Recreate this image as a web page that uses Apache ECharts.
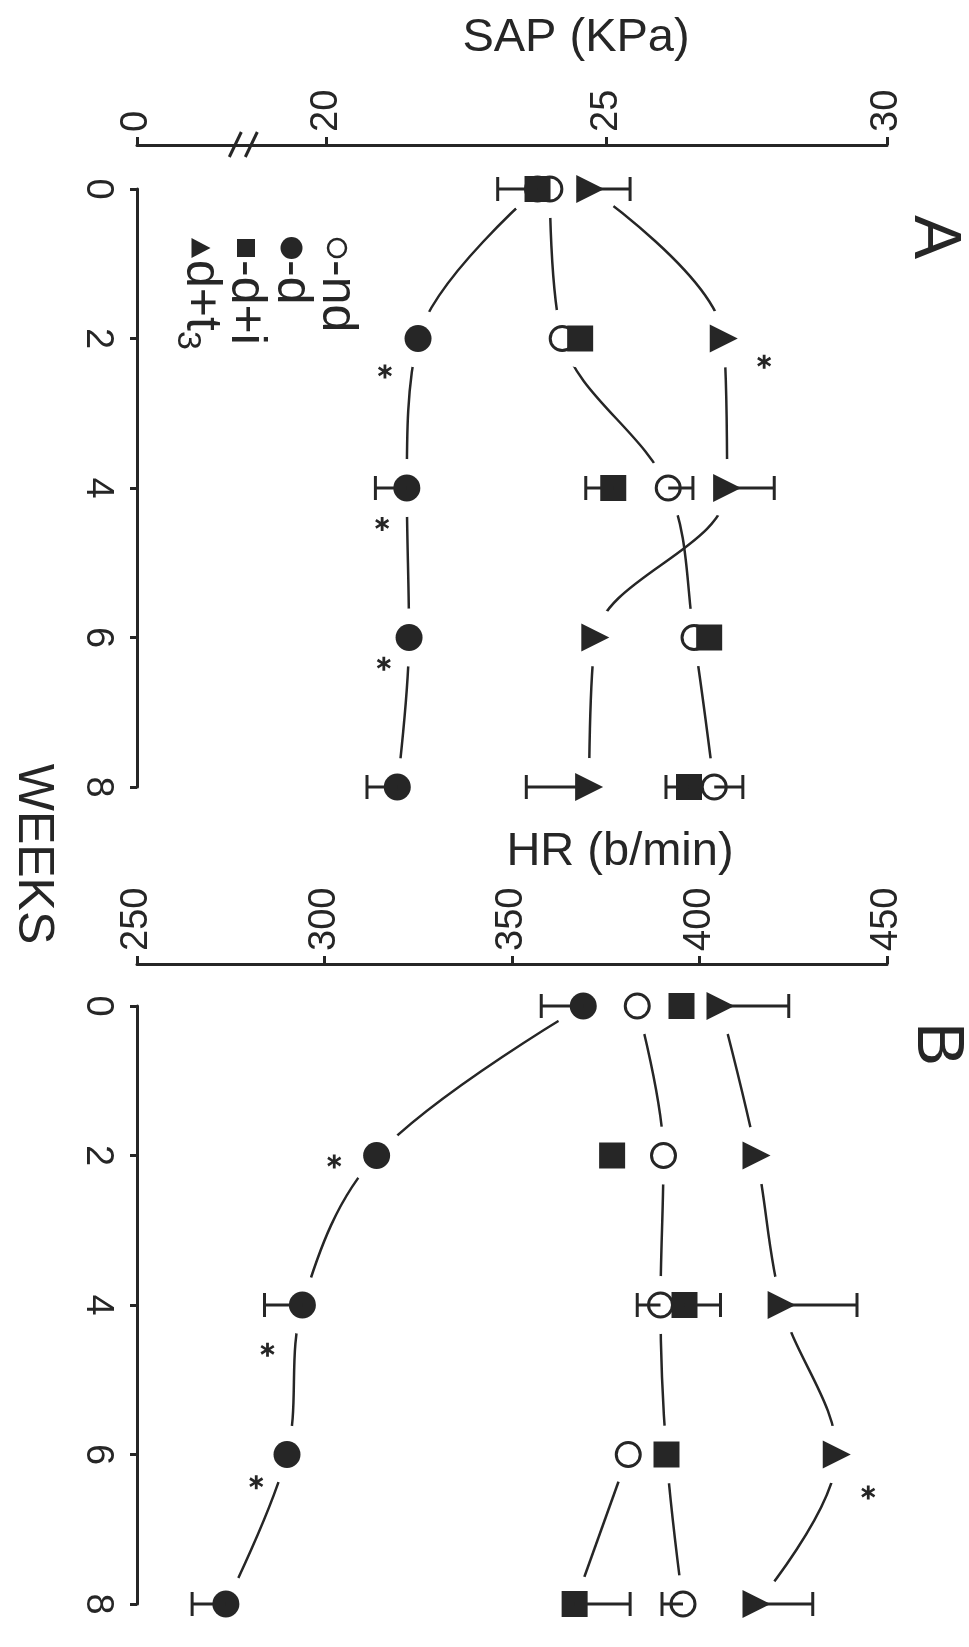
<!DOCTYPE html>
<html>
<head>
<meta charset="utf-8">
<script src="https://cdn.jsdelivr.net/npm/echarts@6/dist/echarts.min.js"></script>
<style>
  html, body { margin: 0; padding: 0; background: #fff; }
  #main { width: 969px; height: 1647px; }
</style>
</head>
<body>
<div id="main"></div>
<script>
// weeks of treatment (vertical axis in both panels)
const weeks = [0, 2, 4, 6, 8];
const weekTicks = [0, 2, 4, 6, 8];

// panel A: SAP (KPa), one value per week
const sapND  = [23.99, 24.21, 26.10, 26.56, 26.92];
const sapD   = [23.77, 21.64, 21.44, 21.48, 21.27];
const sapDI  = [23.77, 24.53, 25.12, 26.83, 26.47];
const sapDT3 = [24.71, 27.09, 27.15, 24.80, 24.69];
// one-sided SEM bars (sign = side drawn), 0 = none
const sapErrND  = [0, 0, 0.44, 0, 0.51];
const sapErrD   = [0, 0, -0.56, 0, -0.54];
const sapErrDI  = [-0.71, 0, -0.49, 0, -0.41];
const sapErrDT3 = [0.71, 0, 0.84, 0, -1.12];
// significance marks [week, SAP]
const sapStars = [[2.44, 21.05], [4.48, 21.0], [6.35, 21.03], [8.39, 20.96], [2.31, 27.81]];
// axis is broken: its left end stands for 0
const sapTicks = [0, 20, 25, 30];
const sapBrokenStart = 16.63;

// panel B: HR (b/min)
const hrND  = [383.4, 390.4, 389.6, 381.0, 395.6];
const hrD   = [369.0, 313.9, 294.1, 290.0, 273.7];
const hrDI  = [395.2, 376.7, 396.0, 391.2, 366.7];
const hrDT3 = [405.6, 415.2, 421.9, 436.6, 415.2];
const hrErrND  = [0, 0, -6.2, 0, -5.6];
const hrErrD   = [-11.2, 0, -10.1, 0, -9.0];
const hrErrDI  = [0, 0, 9.6, 0, 14.8];
const hrErrDT3 = [18.2, 0, 20.1, 0, 15.0];
const hrStars = [[2.08, 302.6], [4.6, 284.8], [6.37, 281.8], [8.41, 265.0], [6.51, 445.0]];
const hrTicks = [250, 300, 350, 400, 450];

const ink = '#262626';
const font = 'Liberation Sans';

const chart = echarts.init(document.getElementById('main'));

function pts(vals) {
  return weeks.map((w, i) => [vals[i] == null ? '-' : vals[i], w]);
}

function lineSeries(idx, vals) {
  return {
    type: 'line', xAxisIndex: idx, yAxisIndex: idx, z: 1,
    data: pts(vals), smooth: 0.35, showSymbol: false, connectNulls: false,
    lineStyle: { color: ink, width: 2.5 }, silent: true
  };
}

// white disc behind each mark, so curves stop short of it
function haloSeries(idx, vals) {
  return {
    type: 'scatter', xAxisIndex: idx, yAxisIndex: idx, z: 2,
    data: pts(vals), symbolSize: 58, itemStyle: { color: '#fff', opacity: 1 }, silent: true
  };
}

function markSeries(idx, vals, kind) {
  const s = {
    type: 'scatter', xAxisIndex: idx, yAxisIndex: idx, z: 3,
    data: pts(vals), symbolSize: 27, itemStyle: { color: ink, opacity: 1 }, silent: true
  };
  if (kind === 'open') {
    s.symbol = 'circle';
    s.symbolSize = 24;
    s.itemStyle = { color: '#fff', borderColor: ink, borderWidth: 3, opacity: 1 };
  } else if (kind === 'square') {
    s.symbol = 'rect';
    s.symbolSize = 26;
  } else if (kind === 'tri') {
    s.symbol = 'triangle';
    s.symbolRotate = -90;
    s.symbolSize = 28;
  } else {
    s.symbol = 'circle';
  }
  return s;
}

function errSeries(idx, vals, errs) {
  const data = [];
  weeks.forEach((w, i) => { if (errs[i]) data.push([w, vals[i], vals[i] + errs[i]]); });
  return {
    type: 'custom', xAxisIndex: idx, yAxisIndex: idx, z: 4, silent: true,
    encode: { x: [1, 2], y: 0 },
    renderItem: function (params, api) {
      const a = api.coord([api.value(1), api.value(0)]);
      const b = api.coord([api.value(2), api.value(0)]);
      return {
        type: 'group', children: [
          { type: 'line', shape: { x1: a[0], y1: a[1], x2: b[0], y2: b[1] }, style: { stroke: ink, lineWidth: 3 } },
          { type: 'line', shape: { x1: b[0], y1: b[1] - 12, x2: b[0], y2: b[1] + 12 }, style: { stroke: ink, lineWidth: 3 } }
        ]
      };
    },
    data: data
  };
}

const starPath = 'path://M4,0L6,0L6,3.5L9,1.5L10,3.2L7,5L10,6.8L9,8.5L6,6.5L6,10L4,10L4,6.5L1,8.5L0,6.8L3,5L0,3.2L1,1.5L4,3.5Z';

function starSeries(idx, stars) {
  return {
    type: 'scatter', xAxisIndex: idx, yAxisIndex: idx, z: 4, silent: true,
    data: stars.map(s => [s[1], s[0]]), symbol: starPath, symbolSize: 14,
    itemStyle: { color: ink, opacity: 1 }
  };
}

// curves: each list of values is one drawn curve
function panelSeries(idx, curves, nd, d, di, dt3, errs, stars) {
  const list = curves.map(c => lineSeries(idx, c));
  [nd, d, di, dt3].forEach(v => list.push(haloSeries(idx, v)));
  list.push(markSeries(idx, d, 'filled'), markSeries(idx, nd, 'open'),
    markSeries(idx, di, 'square'), markSeries(idx, dt3, 'tri'));
  [nd, d, di, dt3].forEach((v, k) => list.push(errSeries(idx, v, errs[k])));
  list.push(starSeries(idx, stars));
  return list;
}

// in panel B the o/■ pair is joined by one curve that splits after week 6
const hrPairUpper = weeks.map((w, i) => (i === 3 ? hrDI[i] : hrND[i]));
const hrPairLower = weeks.map((w, i) => (i === 3 ? hrND[i] : i === 4 ? hrDI[i] : null));

const axisText = { color: ink, fontFamily: font };

function valueAxis(idx, min, max, ticks, labelOf, offset) {
  return {
    type: 'value', gridIndex: idx, position: 'top', offset: offset,
    min: min, max: max, splitLine: { show: false },
    axisLine: { show: true, onZero: false, lineStyle: { color: ink, width: 3 } },
    axisTick: { show: true, customValues: ticks, length: 8, lineStyle: { color: ink, width: 3 } },
    axisLabel: Object.assign({ customValues: ticks, rotate: -90, fontSize: 38, margin: 13, formatter: labelOf }, axisText)
  };
}

function weekAxis(idx) {
  return {
    type: 'value', gridIndex: idx, position: 'left', inverse: true, min: 0, max: 8,
    splitLine: { show: false },
    axisLine: { show: true, onZero: false, lineStyle: { color: ink, width: 3 } },
    axisTick: { show: true, customValues: weekTicks, length: 7, lineStyle: { color: ink, width: 3 } },
    axisLabel: Object.assign({ customValues: weekTicks, rotate: -90, fontSize: 38, margin: 21 }, axisText)
  };
}

const sapAxisY = 145, hrAxisY = 964;
const gridA = { left: 137, top: 189, width: 750, height: 598 };
const gridB = { left: 137, top: 1006, width: 750, height: 598 };

chart.setOption({
  animation: false,
  backgroundColor: '#fff',
  grid: [gridA, gridB],
  xAxis: [
    valueAxis(0, sapBrokenStart, 30, sapTicks.map(t => t === 0 ? sapBrokenStart : t),
      v => (v < 17 ? '0' : String(Math.round(v))), gridA.top - sapAxisY),
    valueAxis(1, 250, 450, hrTicks, v => String(v), gridB.top - hrAxisY)
  ],
  yAxis: [weekAxis(0), weekAxis(1)],
  series: [].concat(
    panelSeries(0, [sapND, sapD, sapDT3], sapND, sapD, sapDI, sapDT3,
      [sapErrND, sapErrD, sapErrDI, sapErrDT3], sapStars),
    panelSeries(1, [hrPairUpper, hrPairLower, hrD, hrDT3], hrND, hrD, hrDI, hrDT3,
      [hrErrND, hrErrD, hrErrDI, hrErrDT3], hrStars)
  )
});

// break mark "//" on the SAP axis
const bx0 = chart.convertToPixel({ xAxisIndex: 0 }, 17.93);
const bx1 = chart.convertToPixel({ xAxisIndex: 0 }, 19.12);
const bxm = (bx0 + bx1) / 2;

function txt(text, x, y, size, rot) {
  return {
    type: 'text', x: x, y: y, rotation: rot || 0,
    style: { text: text, fill: ink, font: size + 'px "' + font + '"', align: 'center', verticalAlign: 'middle' }
  };
}

const legendRows = [
  { sym: 'open', label: '-nd' },
  { sym: 'filled', label: '-d' },
  { sym: 'square', label: '-d+i' },
  { sym: 'tri', label: 'd+t{s|3}' }
];

function legendSymbol(kind, cx, cy) {
  if (kind === 'open') return { type: 'circle', shape: { cx: cx, cy: cy, r: 9 }, style: { fill: '#fff', stroke: ink, lineWidth: 2.5 } };
  if (kind === 'filled') return { type: 'circle', shape: { cx: cx, cy: cy, r: 11 }, style: { fill: ink } };
  if (kind === 'square') return { type: 'rect', shape: { x: cx - 9, y: cy - 9, width: 18, height: 18 }, style: { fill: ink } };
  return { type: 'polygon', shape: { points: [[cx - 10, cy + 9], [cx + 10, cy + 9], [cx, cy - 10]] }, style: { fill: ink } };
}

const legendChildren = [];
legendRows.forEach((row, i) => {
  const ly = i * 45.5;
  legendChildren.push(legendSymbol(row.sym, 0, ly));
  legendChildren.push({
    type: 'text', x: 12, y: ly,
    style: {
      text: row.label, fill: ink, font: '50px "' + font + '"', verticalAlign: 'middle',
      rich: { s: { fontSize: 34, fontFamily: font, fill: ink, padding: [26, 0, 0, 0] } }
    }
  });
});

chart.setOption({
  graphic: [
    txt('SAP (KPa)', 576, 38, 47),
    txt('HR (b/min)', 620, 852, 47),
    txt('WEEKS', 33, 854, 50, -Math.PI / 2),
    txt('A', 933, 237, 66, -Math.PI / 2),
    txt('B', 936, 1044, 66, -Math.PI / 2),
    { type: 'rect', shape: { x: bx0, y: sapAxisY - 3, width: bx1 - bx0, height: 6 }, style: { fill: '#fff' } },
    { type: 'line', shape: { x1: bxm - 14, y1: sapAxisY + 12, x2: bxm - 2, y2: sapAxisY - 13 }, style: { stroke: ink, lineWidth: 3 } },
    { type: 'line', shape: { x1: bxm + 2, y1: sapAxisY + 12, x2: bxm + 14, y2: sapAxisY - 13 }, style: { stroke: ink, lineWidth: 3 } },
    { type: 'group', x: 337, y: 248, rotation: -Math.PI / 2, children: legendChildren }
  ]
});
</script>
</body>
</html>
